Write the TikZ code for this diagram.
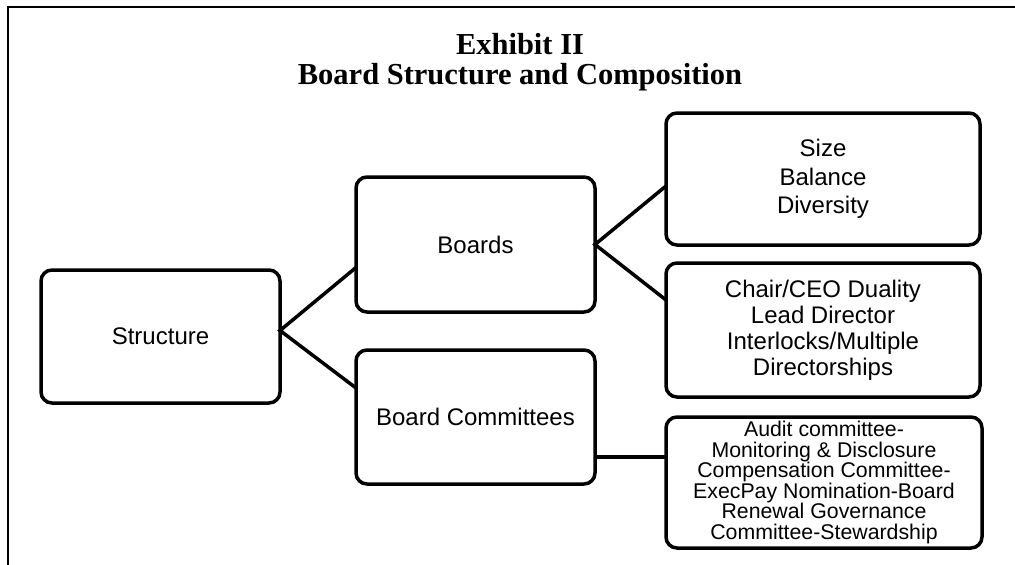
\documentclass[tikz,border=0pt]{standalone}
\usepackage{fontspec}
\setmainfont{Liberation Sans}
\newfontfamily\titlefont{Liberation Serif}
\usepackage{tikz}

\begin{document}
\begin{tikzpicture}[x=1pt, y=-1pt, line width=3.5pt,
  box/.style={draw, rounded corners=11pt, align=center, outer sep=0pt, inner sep=2pt},
  big/.style={font=\fontsize{24}{28}\selectfont},
  small/.style={font=\fontsize{21.3}{20.5}\selectfont}]
\useasboundingbox (0,0) rectangle (1015,565);
\draw[line width=2.8pt] (8,565) -- (8,7) -- (1015,7);

\node[font=\titlefont\bfseries\fontsize{30.5}{30}\selectfont, align=center] (title) at (520,62) {Exhibit II\\Board Structure and Composition};

\node[box, big, minimum width=239pt, minimum height=133pt] (struct) at (160.5,336.5) {Structure};
\node[box, big, minimum width=239pt, minimum height=135pt] (boards) at (475.5,244.5) {Boards};
\node[box, big, minimum width=239pt, minimum height=134pt] (cmte) at (475.5,417) {Board Committees};

\node[box, font=\fontsize{24}{28.5}\selectfont, minimum width=314pt, minimum height=132pt] (sizebox) at (823,179) {Size\\Balance\\Diversity};
\node[box, font=\fontsize{24}{26}\selectfont, minimum width=314pt, minimum height=134pt] (dualbox) at (823,330) {Chair/CEO Duality\\Lead Director\\Interlocks/Multiple\\Directorships};
\node[box, small, minimum width=316pt, minimum height=131pt] (auditbox) at (824,482.5) {Audit committee-\\Monitoring \& Disclosure\\Compensation Committee-\\ExecPay Nomination-Board\\Renewal Governance\\Committee-Stewardship};

\draw ([yshift=-23pt]boards.west) -- ([yshift=6pt]struct.east) -- ([yshift=29pt]cmte.west);
\draw ([yshift=-7pt]sizebox.west) -- (boards.east) -- ([yshift=30pt]dualbox.west);
\draw ([yshift=-40pt]cmte.east) -- ([yshift=-40pt]cmte.east -| auditbox.west);
\end{tikzpicture}
\end{document}
